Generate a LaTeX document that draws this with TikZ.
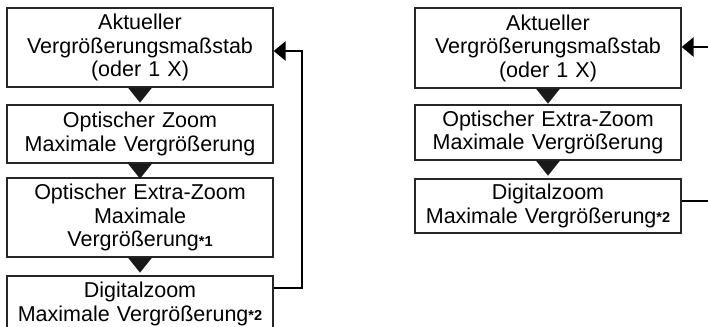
\documentclass[tikz,border=0pt]{standalone}
\usepackage{fontspec}
\setmainfont{Liberation Sans}
\usetikzlibrary{arrows.meta}
\tikzset{
  box/.style={draw=black!85, line width=1.3pt, minimum width=266pt, text width=264pt, align=center, inner sep=0pt, font=\fontsize{21.5}{23.5}\selectfont},
  fb/.style={line width=2.9pt, line cap=butt},
  fbarrow/.style={fb, -{Triangle[length=12pt,width=19pt]}},
  tri/.style={fill=black!90}
}
\newcommand{\fnmark}[1]{{\fontsize{14.5}{14.5}\selectfont\bfseries\raisebox{0.5pt}{*#1}}}
\begin{document}
\begin{tikzpicture}[x=1pt,y=-1pt]
\useasboundingbox (0,0) rectangle (708,326);
\clip (0,0) rectangle (708,326);
% left chain
\node[box, minimum height=79pt] (L1) at (140,47.5) {Aktueller\\Vergrößerungsmaßstab\\(oder 1 X)};
\node[box, minimum height=58pt] (L2) at (140,134) {Optischer Zoom\\Maximale Vergrößerung};
\node[box, minimum height=79pt] (L3) at (140,217.5) {Optischer Extra-Zoom\\Maximale\\Vergrößerung\fnmark{1}};
\node[box, minimum height=56pt] (L4) at (140,304) {Digitalzoom\\Maximale Vergrößerung\fnmark{2}};
% right chain
\node[box, minimum height=80pt] (R1) at (548,48) {Aktueller\\Vergrößerungsmaßstab\\(oder 1 X)};
\node[box, minimum height=55pt] (R2) at (548,132.5) {Optischer Extra-Zoom\\Maximale Vergrößerung};
\node[box, minimum height=54pt] (R3) at (548,206) {Digitalzoom\\Maximale Vergrößerung\fnmark{2}};
% down triangles
\foreach \n in {L1,L2,L3,R1,R2}{
  \fill[tri] ([xshift=-12pt]\n.south) -- ([xshift=12pt]\n.south) -- ([yshift=-15pt]\n.south) -- cycle;
}
% left feedback
\coordinate (Lc1) at (302,288);
\coordinate (Lc2) at (302,51);
\draw[fbarrow] (L4.east |- Lc1) -- (Lc1) -- (Lc2) -- (L1.east |- Lc2);
% right loose ends
\coordinate (Ro) at (712,201);
\coordinate (Ri) at (712,47);
\draw[fb] (R3.east |- Ro) -- (Ro);
\draw[fbarrow] (Ri) -- (R1.east |- Ri);
\end{tikzpicture}
\end{document}
